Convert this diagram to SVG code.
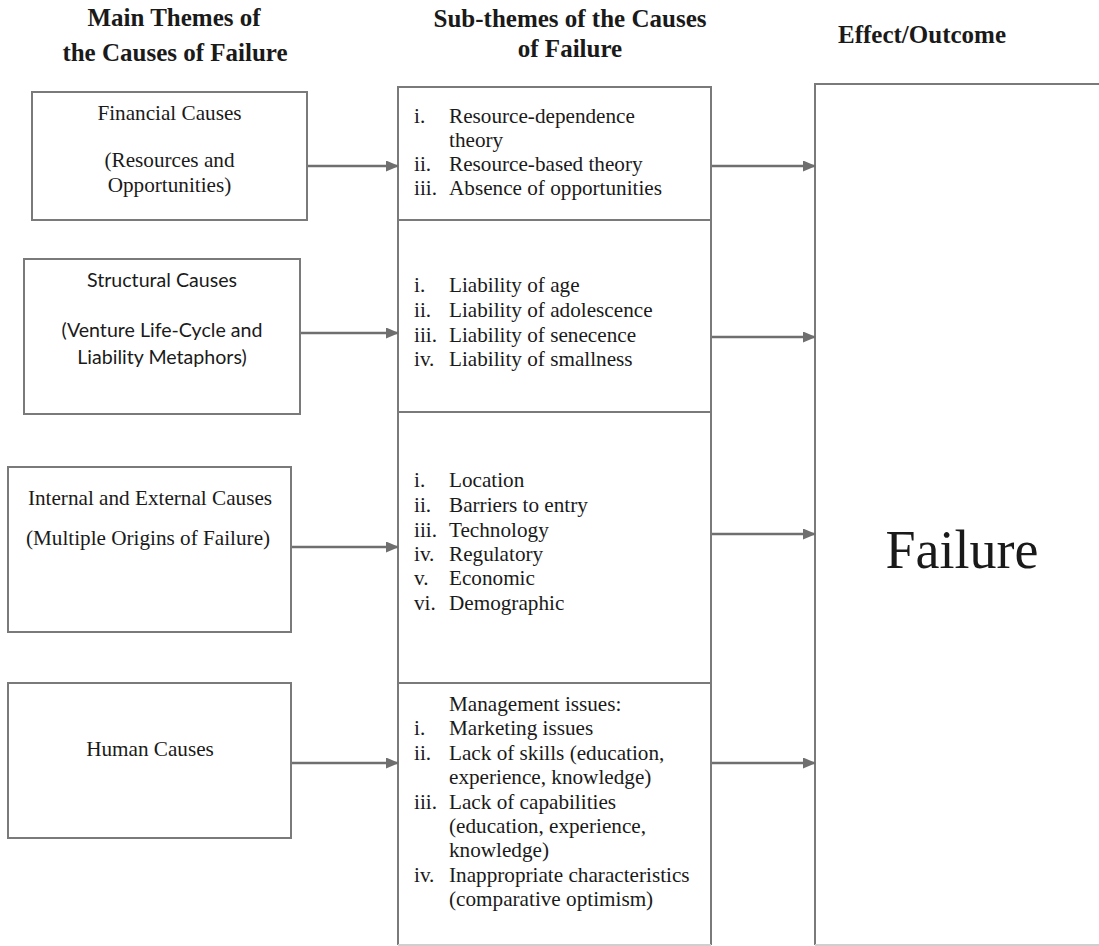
<svg xmlns="http://www.w3.org/2000/svg" width="1099" height="946" viewBox="0 0 1099 946">
<defs>
<marker id="ah" markerWidth="13" markerHeight="11" refX="12" refY="5.5" orient="auto" markerUnits="userSpaceOnUse">
<path d="M0,0 L13,5.5 L0,11 Z" fill="#6f6f6f"/>
</marker>
<style>
.box{fill:#fff;stroke:#7a7a7a;stroke-width:2}
.hd{font-family:"Liberation Serif","Times New Roman",serif;font-weight:bold;font-size:25px;fill:#1a1a1a;text-anchor:middle}
.t{font-family:"Liberation Serif","Times New Roman",serif;font-size:21.2px;fill:#1a1a1a}
.c{text-anchor:middle}
.s{font-family:Lato,"Liberation Sans",Arial,sans-serif;font-size:19.6px;fill:#1a1a1a;text-anchor:middle}
.big{font-family:"Liberation Serif","Times New Roman",serif;font-size:54px;fill:#1a1a1a;text-anchor:middle}
.ln{stroke:#6f6f6f;stroke-width:2.5;fill:none}
</style>
</defs>
<rect width="1099" height="946" fill="#fff"/>
<g id="headers">
<text class="hd" x="174" y="26">Main Themes of</text>
<text class="hd" x="175" y="61">the Causes of Failure</text>
<text class="hd" x="570" y="27">Sub-themes of the Causes</text>
<text class="hd" x="570" y="57">of Failure</text>
<text class="hd" x="922" y="43">Effect/Outcome</text>
</g>
<g id="financial">
<rect class="box" x="32" y="92" width="275" height="128"/>
<text class="t c" x="169.5" y="120">Financial Causes</text>
<text class="t c" x="169.5" y="167">(Resources and</text>
<text class="t c" x="169.5" y="192">Opportunities)</text>
</g>
<g id="structural">
<rect class="box" x="24" y="259" width="276" height="155"/>
<text class="s" x="162" y="287">Structural Causes</text>
<text class="s" x="162" y="337">(Venture Life-Cycle and</text>
<text class="s" x="162" y="364">Liability Metaphors)</text>
</g>
<g id="internal-external">
<rect class="box" x="8" y="467" width="283" height="165"/>
<text class="t c" x="150" y="505">Internal and External Causes</text>
<text class="t c" x="148" y="545">(Multiple Origins of Failure)</text>
</g>
<g id="human">
<rect class="box" x="8" y="683" width="283" height="155"/>
<text class="t c" x="150" y="756">Human Causes</text>
</g>
<g id="sub-financial">
<rect class="box" x="398" y="87" width="313" height="133"/>
<text class="t"><tspan x="414" y="123">i.</tspan><tspan x="449" y="123">Resource-dependence</tspan><tspan x="449" y="147">theory</tspan><tspan x="414" y="171">ii.</tspan><tspan x="449" y="171">Resource-based theory</tspan><tspan x="414" y="195">iii.</tspan><tspan x="449" y="195">Absence of opportunities</tspan></text>
</g>
<g id="sub-structural">
<rect class="box" x="398" y="220" width="313" height="192"/>
<text class="t"><tspan x="414" y="292">i.</tspan><tspan x="449" y="292">Liability of age</tspan><tspan x="414" y="317">ii.</tspan><tspan x="449" y="317">Liability of adolescence</tspan><tspan x="414" y="342">iii.</tspan><tspan x="449" y="342">Liability of senecence</tspan><tspan x="414" y="366">iv.</tspan><tspan x="449" y="366">Liability of smallness</tspan></text>
</g>
<g id="sub-internal-external">
<rect class="box" x="398" y="412" width="313" height="271"/>
<text class="t"><tspan x="414" y="487">i.</tspan><tspan x="449" y="487">Location</tspan><tspan x="414" y="512">ii.</tspan><tspan x="449" y="512">Barriers to entry</tspan><tspan x="414" y="537">iii.</tspan><tspan x="449" y="537">Technology</tspan><tspan x="414" y="561">iv.</tspan><tspan x="449" y="561">Regulatory</tspan><tspan x="414" y="585">v.</tspan><tspan x="449" y="585">Economic</tspan><tspan x="414" y="610">vi.</tspan><tspan x="449" y="610">Demographic</tspan></text>
</g>
<g id="sub-human">
<path d="M398,945 V683 H711 V945" class="box" fill="none"/>
<line x1="398" y1="945" x2="711" y2="945" stroke="#cfcfcf" stroke-width="2"/>
<text class="t"><tspan x="449" y="711">Management issues:</tspan><tspan x="414" y="735">i.</tspan><tspan x="449" y="735">Marketing issues</tspan><tspan x="414" y="760">ii.</tspan><tspan x="449" y="760">Lack of skills (education,</tspan><tspan x="449" y="784">experience, knowledge)</tspan><tspan x="414" y="809">iii.</tspan><tspan x="449" y="809">Lack of capabilities</tspan><tspan x="449" y="833">(education, experience,</tspan><tspan x="449" y="857">knowledge)</tspan><tspan x="414" y="882">iv.</tspan><tspan x="449" y="882">Inappropriate characteristics</tspan><tspan x="449" y="906">(comparative optimism)</tspan></text>
</g>
<g id="failure">
<path d="M1099,84 H815 V945" class="box" fill="none"/>
<line x1="815" y1="945" x2="1099" y2="945" stroke="#cfcfcf" stroke-width="2"/>
<text class="big" x="962" y="568">Failure</text>
</g>
<g id="connectors">
<line class="ln" x1="308" y1="166" x2="398" y2="166" marker-end="url(#ah)"/>
<line class="ln" x1="301" y1="333" x2="398" y2="333" marker-end="url(#ah)"/>
<line class="ln" x1="292" y1="547" x2="398" y2="547" marker-end="url(#ah)"/>
<line class="ln" x1="292" y1="763" x2="398" y2="763" marker-end="url(#ah)"/>
<line class="ln" x1="712" y1="166" x2="815" y2="166" marker-end="url(#ah)"/>
<line class="ln" x1="712" y1="337" x2="815" y2="337" marker-end="url(#ah)"/>
<line class="ln" x1="712" y1="534" x2="815" y2="534" marker-end="url(#ah)"/>
<line class="ln" x1="712" y1="763" x2="815" y2="763" marker-end="url(#ah)"/>
</g>
</svg>
